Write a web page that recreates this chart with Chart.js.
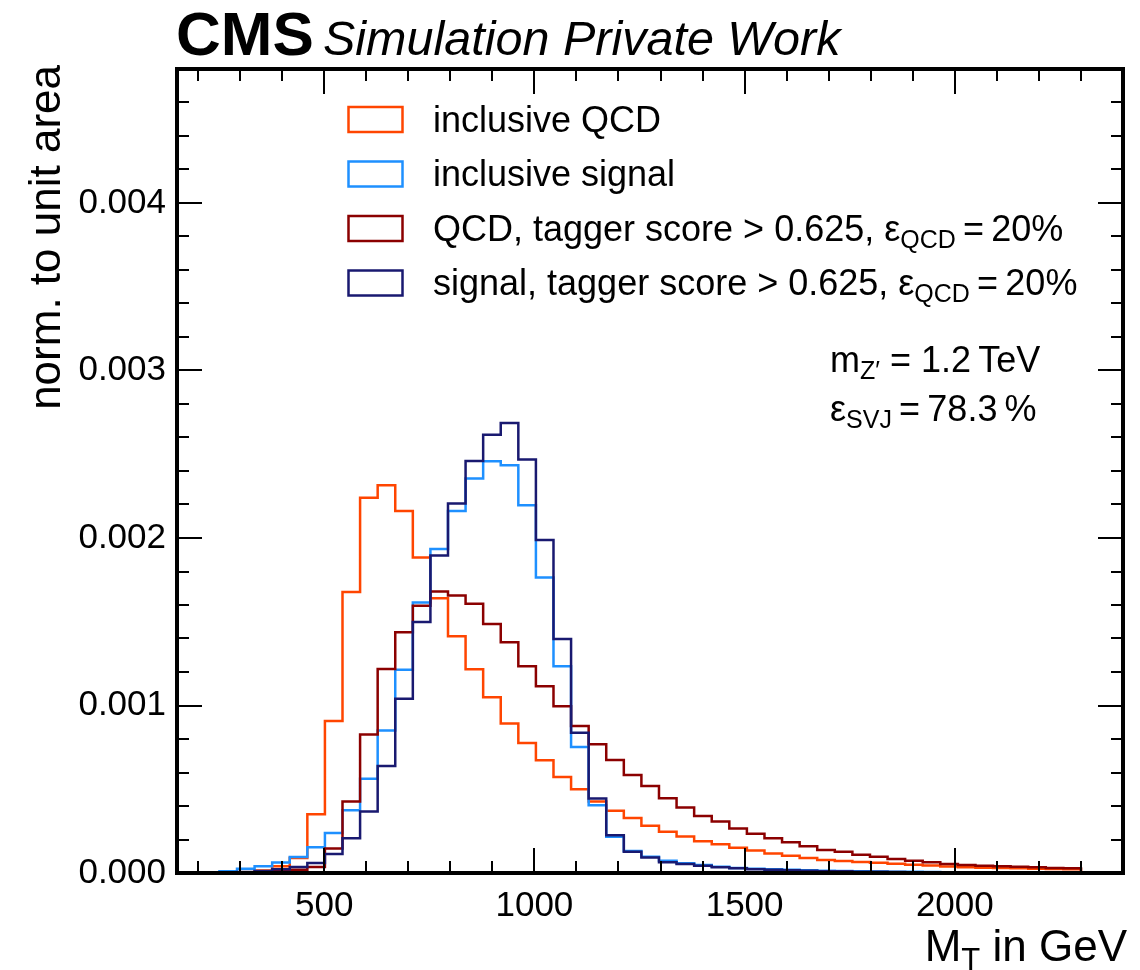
<!DOCTYPE html>
<html>
<head>
<meta charset="utf-8">
<title>M_T in GeV</title>
<script src="https://cdn.jsdelivr.net/npm/chart.js@4.4.0/dist/chart.umd.min.js"></script>
<style>
  html, body { margin: 0; padding: 0; background: #fff; }
  canvas { display: block; }
</style>
</head>
<body>
<canvas id="mt" width="1140" height="970"></canvas>
<script>
// 55 equal bins from 0 to 2300 GeV, the arrays below start at bin #5
const BIN_LO = 0;
const BIN_HI = 2300;
const N_BINS = 55;
const FIRST_BIN = 5;
const UNIT = 1e-3; // values below are in units of 10^-3

const seriesLabels = [
    'inclusive QCD',
    'inclusive signal',
    'QCD, tagger score > 0.625, ε_QCD\u2009=\u200920%',
    'signal, tagger score > 0.625, ε_QCD\u2009=\u200920%'
];
const seriesColors = ['#ff4500', '#1e90ff', '#8b0000', '#191970'];

const qcdInclusive = [
    0.000, 0.002, 0.005, 0.015, 0.040, 0.090, 0.351, 0.907, 1.677, 2.240,
    2.315, 2.161, 1.883, 1.641, 1.413, 1.216, 1.050, 0.893, 0.776, 0.673,
    0.573, 0.500, 0.427, 0.371, 0.329, 0.282, 0.246, 0.218, 0.190, 0.171,
    0.151, 0.135, 0.117, 0.103, 0.089, 0.078, 0.071, 0.066, 0.061, 0.055,
    0.050, 0.045, 0.039, 0.035, 0.032, 0.030, 0.028, 0.026, 0.024, 0.022
];
const signalInclusive = [
    0.000, 0.010, 0.026, 0.041, 0.062, 0.095, 0.153, 0.239, 0.375, 0.563,
    0.851, 1.214, 1.615, 1.935, 2.161, 2.355, 2.458, 2.435, 2.196, 1.764,
    1.234, 0.752, 0.405, 0.216, 0.131, 0.097, 0.073, 0.058, 0.048, 0.038,
    0.030, 0.026, 0.022, 0.019, 0.016, 0.014, 0.012, 0.010, 0.009, 0.008,
    0.007, 0.006, 0.005, 0.004, 0.004, 0.003, 0.003, 0.002, 0.002, 0.002
];
const qcdTagged = [
    0.000, 0.000, 0.002, 0.005, 0.010, 0.020, 0.036, 0.147, 0.427, 0.827,
    1.218, 1.438, 1.595, 1.680, 1.657, 1.607, 1.486, 1.377, 1.234, 1.115,
    0.996, 0.877, 0.768, 0.675, 0.585, 0.520, 0.446, 0.391, 0.341, 0.308,
    0.266, 0.234, 0.208, 0.183, 0.159, 0.138, 0.127, 0.109, 0.097, 0.083,
    0.073, 0.064, 0.054, 0.048, 0.044, 0.040, 0.038, 0.034, 0.030, 0.028
];
const signalTagged = [
    0.000, 0.002, 0.006, 0.012, 0.022, 0.036, 0.060, 0.113, 0.208, 0.367,
    0.639, 1.040, 1.498, 1.895, 2.206, 2.460, 2.617, 2.686, 2.468, 1.988,
    1.397, 0.837, 0.445, 0.226, 0.127, 0.093, 0.064, 0.054, 0.044, 0.034,
    0.028, 0.022, 0.019, 0.016, 0.013, 0.011, 0.010, 0.008, 0.007, 0.006,
    0.005, 0.004, 0.004, 0.003, 0.003, 0.002, 0.002, 0.002, 0.001, 0.001
];

const xTicks = [500, 1000, 1500, 2000];
const yTicks = [0, 0.001, 0.002, 0.003, 0.004];
const X_MIN = 150, X_MAX = 2400;
const Y_MIN = 0, Y_MAX = 0.0048;

const FONT = "'Liberation Sans', Arial, Helvetica, sans-serif";

// histogram outline: one point per bin edge, closed down to zero at both ends
function stepPoints(vals) {
    const w = (BIN_HI - BIN_LO) / N_BINS;
    const edge = i => BIN_LO + (FIRST_BIN + i) * w;
    const pts = [{ x: edge(0), y: 0 }];
    vals.forEach((v, i) => pts.push({ x: edge(i), y: v * UNIT }));
    const last = vals[vals.length - 1] * UNIT;
    pts.push({ x: edge(vals.length), y: last });
    pts.push({ x: edge(vals.length), y: 0 });
    return pts;
}

// text with _subscripts, e.g. 'ε_QCD = 20%'
function parseRich(str) {
    const parts = [];
    const re = /_([A-Za-z′]+)/g;
    let pos = 0, m;
    while ((m = re.exec(str)) !== null) {
        if (m.index > pos) parts.push({ t: str.slice(pos, m.index), sub: false });
        parts.push({ t: m[1], sub: true });
        pos = m.index + m[0].length;
    }
    if (pos < str.length) parts.push({ t: str.slice(pos), sub: false });
    return parts;
}

function drawRich(ctx, str, x, y, size, style, align) {
    const parts = parseRich(str);
    const font = (p) => `${style || ''} ${p.sub ? Math.round(size * 0.7) : size}px ${FONT}`;
    let width = 0;
    parts.forEach(p => { ctx.font = font(p); width += ctx.measureText(p.t).width; });
    let cx = align === 'right' ? x - width : x;
    ctx.textAlign = 'left';
    ctx.textBaseline = 'alphabetic';
    parts.forEach(p => {
        ctx.font = font(p);
        ctx.fillText(p.t, cx, p.sub ? y + size * 0.2 : y);
        cx += ctx.measureText(p.t).width;
    });
}

const decorations = {
    id: 'decorations',
    afterDraw(chart) {
        const ctx = chart.ctx;
        const { left, right, top, bottom } = chart.chartArea;
        const xs = chart.scales.x, ys = chart.scales.y;
        ctx.save();
        ctx.fillStyle = '#000';
        ctx.strokeStyle = '#000';

        // inward ticks on all four sides
        ctx.lineWidth = 2;
        ctx.beginPath();
        for (let v = 200; v < X_MAX; v += 100) {
            const px = Math.round(xs.getPixelForValue(v));
            const len = v % 500 === 0 ? 25 : 12;
            ctx.moveTo(px, bottom); ctx.lineTo(px, bottom - len);
            ctx.moveTo(px, top); ctx.lineTo(px, top + len);
        }
        for (let i = 1; i < 24; i++) {
            const v = i * 0.0002;
            const py = Math.round(ys.getPixelForValue(v));
            const len = i % 5 === 0 ? 25 : 12;
            ctx.moveTo(left, py); ctx.lineTo(left + len, py);
            ctx.moveTo(right, py); ctx.lineTo(right - len, py);
        }
        ctx.stroke();

        // frame
        ctx.lineWidth = 4;
        ctx.strokeRect(left, top, right - left, bottom - top);

        // legend
        chart.data.datasets.forEach((ds, i) => {
            const cy = 119 + i * 54.5;
            ctx.lineWidth = 2.5;
            ctx.strokeStyle = ds.borderColor;
            ctx.strokeRect(348.5, cy - 12, 54, 25);
            drawRich(ctx, seriesLabels[i], 433, cy + 12.5, 36);
        });

        // labels inside the frame
        drawRich(ctx, 'm_Z′ = 1.2\u2009TeV', 830, 372, 36);
        drawRich(ctx, 'ε_SVJ\u2009=\u200978.3\u2009%', 830, 421, 36);

        // header
        ctx.font = `bold 62px ${FONT}`;
        ctx.textAlign = 'left';
        ctx.fillText('CMS', 176, 55);
        ctx.font = `italic 48.5px ${FONT}`;
        ctx.fillText('Simulation Private Work', 323, 55);

        // axis titles
        drawRich(ctx, 'M_T in GeV', 1127, 961, 44, '', 'right');
        ctx.save();
        ctx.translate(60, 65);
        ctx.rotate(-Math.PI / 2);
        ctx.font = `44px ${FONT}`;
        ctx.textAlign = 'right';
        ctx.textBaseline = 'alphabetic';
        ctx.fillText('norm. to unit area', 0, 0);
        ctx.restore();

        ctx.restore();
    }
};

const allSeries = [qcdInclusive, signalInclusive, qcdTagged, signalTagged];

new Chart(document.getElementById('mt'), {
    type: 'line',
    data: {
        datasets: allSeries.map((vals, i) => ({
            label: seriesLabels[i],
            data: stepPoints(vals),
            borderColor: seriesColors[i],
            borderWidth: 2.5,
            stepped: 'before',
            pointRadius: 0,
            fill: false,
            order: allSeries.length - i
        }))
    },
    options: {
        responsive: false,
        animation: false,
        devicePixelRatio: 1,
        layout: { padding: { top: 69, right: 17, left: 0, bottom: 0 } },
        plugins: { legend: { display: false }, tooltip: { enabled: false } },
        scales: {
            x: {
                type: 'linear',
                min: X_MIN,
                max: X_MAX,
                grid: { display: false, drawTicks: false },
                border: { display: false },
                afterBuildTicks: s => { s.ticks = xTicks.map(v => ({ value: v })); },
                afterFit: s => { s.height = 97; },
                ticks: {
                    color: '#000',
                    font: { family: FONT, size: 35 },
                    padding: 12,
                    maxRotation: 0,
                    callback: v => String(v)
                }
            },
            y: {
                type: 'linear',
                min: Y_MIN,
                max: Y_MAX,
                grid: { display: false, drawTicks: false },
                border: { display: false },
                afterBuildTicks: s => { s.ticks = yTicks.map(v => ({ value: v })); },
                afterFit: s => { s.width = 177; },
                ticks: {
                    color: '#000',
                    font: { family: FONT, size: 35 },
                    padding: 11,
                    callback: v => v.toFixed(3)
                }
            }
        }
    },
    plugins: [decorations]
});
</script>
</body>
</html>
